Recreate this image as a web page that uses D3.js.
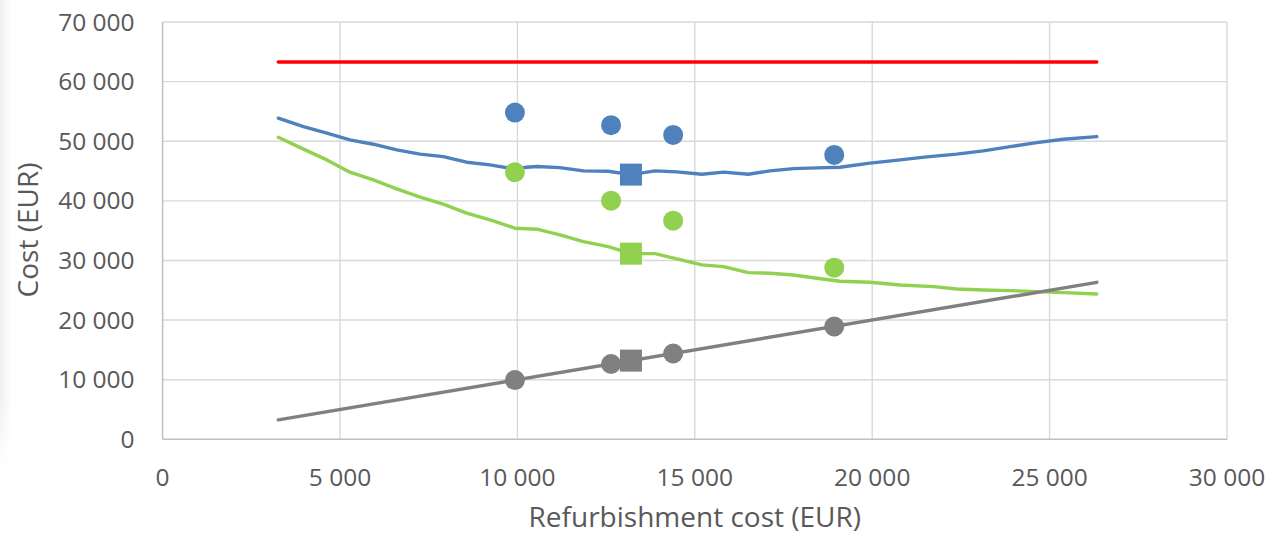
<!DOCTYPE html>
<html>
<head>
<meta charset="utf-8">
<script src="https://cdn.jsdelivr.net/npm/d3@7/dist/d3.min.js"></script>
<style>
html,body{margin:0;padding:0;background:#fff;}
svg{display:block;}
text{font-family:"Open Sans",sans-serif;fill:#595959;}
</style>
</head>
<body>
<svg id="chart" width="1277" height="539"></svg>
<script>
// ---- data ----
const xTicks = [0, 5000, 10000, 15000, 20000, 25000, 30000];
const yTicks = [0, 10000, 20000, 30000, 40000, 50000, 60000, 70000];

const redX = [3260, 26330];
const redY = [63300, 63300];

const grayX = [3260, 26330];
const grayY = [3260, 26330];

const blueX = [3260, 3970, 4630, 5280, 5940, 6600, 7260, 7910, 8570, 9230, 9930, 10260, 10550, 11200, 11860, 12560, 13200, 13880, 14490, 15200, 15810, 16510, 17120, 17780, 18440, 19090, 19940, 20790, 21540, 22380, 23130, 23890, 24640, 25390, 26330];
const blueY = [53870, 52460, 51350, 50230, 49500, 48550, 47830, 47420, 46480, 46030, 45310, 45640, 45750, 45580, 45020, 44970, 44400, 45020, 44860, 44470, 44810, 44470, 45020, 45410, 45530, 45640, 46320, 46870, 47370, 47830, 48380, 49100, 49770, 50340, 50780];

const greenX = [3260, 3970, 4630, 5280, 5940, 6600, 7260, 7910, 8570, 9230, 9930, 10550, 11200, 11860, 12560, 13200, 13880, 14490, 15200, 15810, 16510, 17120, 17780, 18440, 19090, 19940, 20790, 21730, 22380, 23130, 23890, 24640, 25390, 26330];
const greenY = [50680, 48670, 46870, 44800, 43510, 42000, 40610, 39440, 37930, 36800, 35410, 35240, 34280, 33160, 32320, 31150, 31150, 30260, 29250, 28970, 27960, 27860, 27570, 27020, 26510, 26350, 25890, 25610, 25220, 25050, 24940, 24770, 24600, 24380];

const pointX = [9930, 12640, 14390, 18930];
const bluePtY = [54800, 52690, 51060, 47700];
const greenPtY = [44800, 40030, 36680, 28790];
const grayPtY = [9930, 12640, 14390, 18930];

const squareX = [13200];
const blueSqY = [44400];
const greenSqY = [31140];
const graySqY = [13200];

const xTitle = "Refurbishment cost (EUR)";
const yTitle = "Cost (EUR)";

// ---- colors ----
const C = {blue:"#4f81bd", green:"#92d050", gray:"#808080", red:"#ff0000"};

// ---- setup ----
const svg = d3.select("#chart");
const x = d3.scaleLinear().domain([0, 30000]).range([162.6, 1227]);
const y = d3.scaleLinear().domain([0, 70000]).range([439.3, 22]);

const loc = d3.formatLocale({decimal:",", thousands:"\u00a0", grouping:[3], currency:["",""]});
const fmt = v => loc.format(",d")(v).replace(/\u00a0/g, " ");

// left edge faint shading
const defs = svg.append("defs");
const lg = defs.append("linearGradient").attr("id","shade").attr("x1","0").attr("x2","1");
lg.append("stop").attr("offset","0").attr("stop-color","#f0f0f0");
lg.append("stop").attr("offset","1").attr("stop-color","#ffffff");
const vg = defs.append("linearGradient").attr("id","vfade").attr("x1","0").attr("x2","0").attr("y1","0").attr("y2","1");
vg.append("stop").attr("offset","0.85").attr("stop-color","#fff").attr("stop-opacity",1);
vg.append("stop").attr("offset","1").attr("stop-color","#fff").attr("stop-opacity",0);
const mk = defs.append("mask").attr("id","shmask");
mk.append("rect").attr("x",0).attr("y",0).attr("width",12).attr("height",470).attr("fill","url(#vfade)");
svg.append("rect").attr("x",0).attr("y",0).attr("width",12).attr("height",470)
  .attr("fill","url(#shade)").attr("mask","url(#shmask)");

// grid
const g = svg.append("g");
g.selectAll("line.hg").data(yTicks.filter(d=>d>0)).join("line")
  .attr("x1", x(0)).attr("x2", x(30000))
  .attr("y1", d=>y(d)).attr("y2", d=>y(d))
  .attr("stroke","#d9d9d9").attr("stroke-width",1.4);
g.selectAll("line.vg").data(xTicks.filter(d=>d>0)).join("line")
  .attr("x1", d=>x(d)).attr("x2", d=>x(d))
  .attr("y1", y(0)).attr("y2", y(70000))
  .attr("stroke","#d9d9d9").attr("stroke-width",1.4);
// axis lines
g.append("line").attr("x1",x(0)).attr("x2",x(30000)).attr("y1",y(0)).attr("y2",y(0)).attr("stroke","#bfbfbf").attr("stroke-width",1.5);
g.append("line").attr("x1",x(0)).attr("x2",x(0)).attr("y1",y(0)).attr("y2",y(70000)).attr("stroke","#bfbfbf").attr("stroke-width",1.5);

// tick labels
svg.append("g").selectAll("text").data(yTicks).join("text")
  .attr("x", x(0) - 28).attr("y", d=>y(d)).attr("dy","0.35em")
  .attr("text-anchor","end").attr("font-size","24.5px").text(fmt);
svg.append("g").selectAll("text").data(xTicks).join("text")
  .attr("x", d=>x(d)).attr("y", 477).attr("dy","0.35em")
  .attr("text-anchor","middle").attr("font-size","24.5px").text(fmt);

// axis titles
svg.append("text").attr("x", (x(0)+x(30000))/2).attr("y", 527)
  .attr("text-anchor","middle").attr("font-size","28px").text(xTitle);
svg.append("text").attr("transform","translate(38,230) rotate(-90)")
  .attr("text-anchor","middle").attr("font-size","28px").text(yTitle);

// lines
const line = d3.line().x(d=>x(d[0])).y(d=>y(d[1]));
const series = [
  [redX, redY, C.red],
  [blueX, blueY, C.blue],
  [greenX, greenY, C.green],
  [grayX, grayY, C.gray]
];
series.forEach(([xs, ys, col]) => {
  svg.append("path").datum(xs.map((v,i)=>[v, ys[i]]))
    .attr("d", line).attr("fill","none").attr("stroke",col)
    .attr("stroke-width",3.4).attr("stroke-linejoin","round").attr("stroke-linecap","round");
});

// markers
const pts = [
  [pointX, bluePtY, C.blue],
  [pointX, greenPtY, C.green],
  [pointX, grayPtY, C.gray]
];
pts.forEach(([xs, ys, col]) => {
  svg.append("g").selectAll("circle").data(xs.map((v,i)=>[v, ys[i]])).join("circle")
    .attr("cx", d=>x(d[0])).attr("cy", d=>y(d[1])).attr("r",10).attr("fill",col);
});
const sqs = [
  [squareX, blueSqY, C.blue],
  [squareX, greenSqY, C.green],
  [squareX, graySqY, C.gray]
];
const S = 22;
sqs.forEach(([xs, ys, col]) => {
  svg.append("g").selectAll("rect").data(xs.map((v,i)=>[v, ys[i]])).join("rect")
    .attr("x", d=>x(d[0]) - S/2).attr("y", d=>y(d[1]) - S/2)
    .attr("width",S).attr("height",S).attr("fill",col);
});
</script>
</body>
</html>
